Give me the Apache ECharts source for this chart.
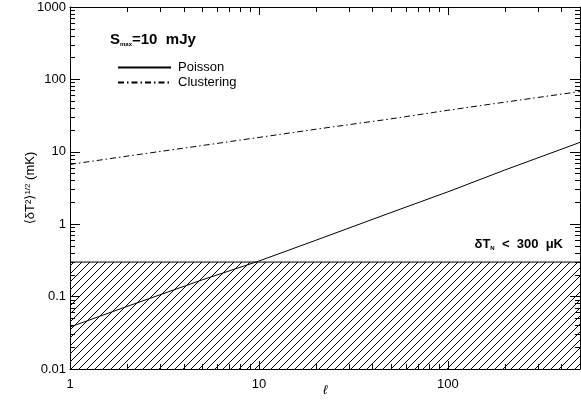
<!DOCTYPE html>
<html><head><meta charset="utf-8">
<script src="https://cdn.jsdelivr.net/npm/echarts@6/dist/echarts.min.js"></script>
<style>html,body{margin:0;padding:0;background:#fff}#c{width:581px;height:402px;background:#fff}</style>
</head><body><div id="c"></div>
<script>
// ---- data ----
const ell        = [1, 2, 5, 10, 20, 50, 100, 200, 500];
const poisson    = [0.038, 0.073, 0.17, 0.31, 0.6, 1.45, 2.8, 5.6, 13.5];
const clustering = [6.7, 8.7, 12.2, 15.8, 20.5, 28.5, 37.5, 48.5, 68];
const noiseBand  = [0.01, 0.3];          // hatched region (mK)
const xRange = [1, 500];
const yRange = [0.01, 1000];
const xMajorTicks = [1, 10, 100];
const xTickLabels = ['1', '10', '100'];
const xMinorTicks = [2,3,4,5,6,7,8,9,20,30,40,50,60,70,80,90,200,300,400,500];
const yMajorTicks = [0.01, 0.1, 1, 10, 100, 1000];
const yTickLabels = ['0.01', '0.1', '1', '10', '100', '1000'];
const yMinorTicks = [0.02,0.03,0.04,0.05,0.06,0.07,0.08,0.09,
                     0.2,0.3,0.4,0.5,0.6,0.7,0.8,0.9,
                     2,3,4,5,6,7,8,9,20,30,40,50,60,70,80,90,
                     200,300,400,500,600,700,800,900];
const seriesNames = ['Poisson', 'Clustering'];

// ---- styling ----
const FONT = '"Liberation Sans", Arial, "DejaVu Sans", sans-serif';
const INK = '#000';
const GRID = { left: 70, top: 7, width: 510, height: 362, outerBoundsMode: 'none', containLabel: false };

function hatchPattern() {
  const s = 8;
  const cv = document.createElement('canvas');
  cv.width = s; cv.height = s;
  const g = cv.getContext('2d');
  g.strokeStyle = INK; g.lineWidth = 1;
  g.beginPath();
  g.moveTo(-1, s + 1); g.lineTo(s + 1, -1);
  g.moveTo(-1, 1); g.lineTo(1, -1);
  g.moveTo(s - 1, s + 1); g.lineTo(s + 1, s - 1);
  g.stroke();
  return { image: cv, repeat: 'repeat' };
}

function labelFor(v, ticks, labels) {
  for (let i = 0; i < ticks.length; i++) {
    if (Math.abs(Math.log10(v) - Math.log10(ticks[i])) < 1e-6) return labels[i];
  }
  return '';
}

function makeAxis(gridIndex, range, position, ticks, len, showLine, opts) {
  return Object.assign({
    gridIndex: gridIndex, type: 'log', min: range[0], max: range[1], position: position,
    axisLine: { show: showLine, lineStyle: { color: INK, width: 1 } },
    axisTick: { show: true, inside: true, length: len, customValues: ticks.slice(),
                lineStyle: { color: INK, width: 1 } },
    axisLabel: { show: false },
    splitLine: { show: false }
  }, opts || {});
}

const axisLabelStyle = { color: INK, fontFamily: FONT, fontSize: 13 };

// one grid per tick set, all sharing the same rectangle
const xAxes = [
  makeAxis(0, xRange, 'bottom', xMajorTicks, 8, true, {
    axisLabel: Object.assign({ show: true, margin: 9, showMaxLabel: false,
      formatter: v => labelFor(v, xMajorTicks, xTickLabels) }, axisLabelStyle),
    name: 'ℓ', nameLocation: 'middle', nameGap: 15, nameMoveOverlap: false,
    nameTextStyle: { color: INK, fontFamily: FONT, fontSize: 13, fontStyle: 'italic' }
  }),
  makeAxis(1, xRange, 'bottom', xMinorTicks, 5, false),
  makeAxis(2, xRange, 'top', xMajorTicks, 8, true),
  makeAxis(3, xRange, 'top', xMinorTicks, 5, false)
];

const yAxes = [
  makeAxis(0, yRange, 'left', yMajorTicks, 10, true, {
    axisLabel: Object.assign({ show: true, margin: 4,
      formatter: v => labelFor(v, yMajorTicks, yTickLabels) }, axisLabelStyle),
    name: '{a|⟨δT²⟩}{s|1/2}{a| (mK)}', nameLocation: 'middle', nameRotate: 90,
    nameGap: 33, nameMoveOverlap: false,
    nameTextStyle: { color: INK, fontFamily: FONT, fontSize: 13,
      rich: { a: { fontFamily: FONT, fontSize: 13, color: INK, verticalAlign: 'bottom' },
              s: { fontFamily: FONT, fontSize: 8, color: INK, verticalAlign: 'top' } } }
  }),
  makeAxis(1, yRange, 'left', yMinorTicks, 5, false),
  makeAxis(2, yRange, 'right', yMajorTicks, 10, true),
  makeAxis(3, yRange, 'right', yMinorTicks, 5, false)
];

const option = {
  animation: false,
  grid: [0, 1, 2, 3].map(() => Object.assign({}, GRID)),
  xAxis: xAxes,
  yAxis: yAxes,
  title: [
    { text: '{a|S}{b|max}{a|=10  mJy}', left: 105, top: 27,
      textStyle: { rich: {
        a: { fontFamily: FONT, fontSize: 15, color: INK, verticalAlign: 'bottom' },
        b: { fontFamily: FONT, fontSize: 6, fontWeight: 'bold', color: INK, verticalAlign: 'bottom' } } } },
    { text: '{a|δT}{b|N}{a|  <  300  μK}', right: 13, top: 233,
      textStyle: { rich: {
        a: { fontFamily: FONT, fontSize: 13, color: INK, verticalAlign: 'bottom' },
        b: { fontFamily: FONT, fontSize: 6, fontWeight: 'bold', color: INK, verticalAlign: 'bottom' } } } }
  ],
  legend: {
    data: seriesNames, orient: 'vertical', left: 112, top: 56,
    itemWidth: 53, itemHeight: 14, itemGap: 2, itemStyle: { opacity: 0 },
    textStyle: { color: INK, fontFamily: FONT, fontSize: 13, padding: [0, 0, 0, 2] },
    inactiveColor: INK
  },
  series: [
    { name: 'band', type: 'line', xAxisIndex: 0, yAxisIndex: 0, symbol: 'none', silent: true,
      data: [[xRange[0], noiseBand[1]], [xRange[1], noiseBand[1]]],
      lineStyle: { color: INK, width: 1 },
      areaStyle: { color: hatchPattern(), origin: 'start', opacity: 1 } },
    { name: seriesNames[0], type: 'line', xAxisIndex: 0, yAxisIndex: 0, symbol: 'none',
      color: INK, lineStyle: { color: INK, width: 1, type: 'solid' },
      data: ell.map((x, i) => [x, poisson[i]]) },
    { name: seriesNames[1], type: 'line', xAxisIndex: 0, yAxisIndex: 0, symbol: 'none',
      color: INK, lineStyle: { color: INK, width: 1, type: [6, 3, 1.5, 3] },
      data: ell.map((x, i) => [x, clustering[i]]) }
  ]
};

const chart = echarts.init(document.getElementById('c'), null, { renderer: 'canvas' });
chart.setOption(option);
</script>
</body></html>
